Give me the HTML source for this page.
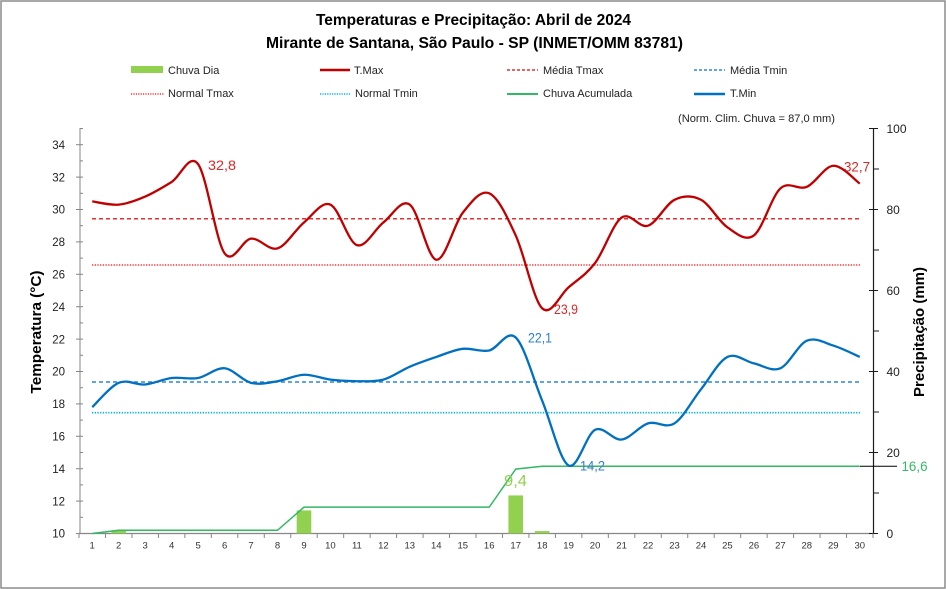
<!DOCTYPE html>
<html><head><meta charset="utf-8"><style>
html,body{margin:0;padding:0;background:#fff;}
svg{display:block;font-family:"Liberation Sans",sans-serif;}
</style></head><body>
<svg id="s" width="946" height="589" viewBox="0 0 946 589" xmlns="http://www.w3.org/2000/svg">
<rect x="0" y="0" width="946" height="589" fill="#fff"/>
<rect x="1" y="1" width="944" height="587" fill="none" stroke="#8c8c8c" stroke-width="1.5"/>
<text x="473.5" y="25" font-size="16" font-weight="bold" text-anchor="middle" textLength="315" lengthAdjust="spacingAndGlyphs" fill="#000">Temperaturas e Precipitação: Abril de 2024</text>
<text x="474.5" y="48" font-size="16" font-weight="bold" text-anchor="middle" textLength="417" lengthAdjust="spacingAndGlyphs" fill="#000">Mirante de Santana, São Paulo - SP (INMET/OMM 83781)</text>
<g font-size="11" fill="#222">
<rect x="131" y="66" width="32" height="7" fill="#92d050"/>
<text x="168" y="74">Chuva Dia</text>
<line x1="320" y1="70" x2="350" y2="70" stroke="#c00000" stroke-width="2.5"/>
<text x="354" y="74">T.Max</text>
<line x1="507" y1="70" x2="538" y2="70" stroke="#e03030" stroke-width="1.5" stroke-dasharray="3,2"/>
<text x="543" y="74">Média Tmax</text>
<line x1="694" y1="70" x2="725" y2="70" stroke="#2e86d6" stroke-width="1.5" stroke-dasharray="3,2"/>
<text x="730" y="74">Média Tmin</text>
<line x1="131" y1="94" x2="164" y2="94" stroke="#ff3333" stroke-width="1.5" stroke-dasharray="1.2,1.2"/>
<text x="168" y="97">Normal Tmax</text>
<line x1="320" y1="94" x2="350" y2="94" stroke="#00b0f0" stroke-width="1.5" stroke-dasharray="1.2,1.2"/>
<text x="355" y="97">Normal Tmin</text>
<line x1="507" y1="94" x2="538" y2="94" stroke="#33b864" stroke-width="2"/>
<text x="543" y="97">Chuva Acumulada</text>
<line x1="694" y1="94" x2="725" y2="94" stroke="#0070c0" stroke-width="2.5"/>
<text x="730" y="97">T.Min</text>
<text x="678" y="122" textLength="157" lengthAdjust="spacingAndGlyphs">(Norm. Clim. Chuva = 87,0 mm)</text>
</g>
<g id="axes"></g>
<g id="bars" fill="#92d050"></g>
<line x1="92" y1="218.7" x2="860" y2="218.7" stroke="#e03030" stroke-width="1.5" stroke-dasharray="4,3"/>
<line x1="92" y1="265" x2="860" y2="265" stroke="#ff3333" stroke-width="1.6" stroke-dasharray="1.3,1.4"/>
<line x1="92" y1="382" x2="860" y2="382" stroke="#2e86d6" stroke-width="1.5" stroke-dasharray="4,3"/>
<line x1="92" y1="412.7" x2="860" y2="412.7" stroke="#00b0f0" stroke-width="1.6" stroke-dasharray="1.3,1.4"/>
<path id="acc" fill="none" stroke="#33b864" stroke-width="1.5"/>
<line x1="860" y1="466.3" x2="897" y2="466.3" stroke="#000" stroke-width="1"/>
<path id="tmax" fill="none" stroke="#c00000" stroke-width="2.3" stroke-linejoin="round"/>
<path id="tmin" fill="none" stroke="#0070c0" stroke-width="2.3" stroke-linejoin="round"/>
<g font-size="13.5">
<text x="208" y="170" fill="#d42a2a" textLength="28" lengthAdjust="spacingAndGlyphs">32,8</text>
<text x="844" y="171.5" fill="#d42a2a" textLength="26" lengthAdjust="spacingAndGlyphs">32,7</text>
<text x="554" y="314" fill="#d42a2a" textLength="24" lengthAdjust="spacingAndGlyphs">23,9</text>
<text x="528" y="342.5" fill="#2a7ccc" textLength="24" lengthAdjust="spacingAndGlyphs">22,1</text>
<text x="580" y="470.5" fill="#3a7ed0" textLength="25" lengthAdjust="spacingAndGlyphs">14,2</text>
<text x="504" y="486" fill="#92d050" font-size="15.5" textLength="23" lengthAdjust="spacingAndGlyphs">9,4</text>
<text x="901.5" y="471" fill="#33b864" textLength="26" lengthAdjust="spacingAndGlyphs">16,6</text>
</g>
<text transform="translate(41,332) rotate(-90)" font-size="15" font-weight="bold" text-anchor="middle" textLength="123" lengthAdjust="spacingAndGlyphs" fill="#000">Temperatura (°C)</text>
<text transform="translate(924,332) rotate(-90)" font-size="15" font-weight="bold" text-anchor="middle" textLength="130" lengthAdjust="spacingAndGlyphs" fill="#000">Precipitação (mm)</text>
</svg>
<script>
(function(){
var NS="http://www.w3.org/2000/svg";
function X(d){return 79+(d-0.5)*26.467;}
function Y(t){return 533.5-(t-10)*16.2;}
function R(m){return 533.5-m*4.05;}
function el(p,n,a,txt){var e=document.createElementNS(NS,n);for(var k in a)e.setAttribute(k,a[k]);if(txt!=null)e.textContent=txt;p.appendChild(e);return e;}
function smooth(p){var d="M"+p[0][0].toFixed(2)+","+p[0][1].toFixed(2);for(var i=0;i<p.length-1;i++){var p0=p[i-1]||p[i],p1=p[i],p2=p[i+1],p3=p[i+2]||p2;var c1x=p1[0]+(p2[0]-p0[0])/6,c1y=p1[1]+(p2[1]-p0[1])/6,c2x=p2[0]-(p3[0]-p1[0])/6,c2y=p2[1]-(p3[1]-p1[1])/6;d+="C"+c1x.toFixed(2)+","+c1y.toFixed(2)+" "+c2x.toFixed(2)+","+c2y.toFixed(2)+" "+p2[0].toFixed(2)+","+p2[1].toFixed(2);}return d;}
var tmax=[30.5,30.3,30.8,31.7,32.8,27.3,28.2,27.6,29.2,30.3,27.8,29.2,30.3,26.9,29.8,31.0,28.4,23.9,25.2,26.7,29.5,29.0,30.6,30.6,28.9,28.4,31.3,31.4,32.7,31.6];
var tmin=[17.8,19.3,19.2,19.6,19.6,20.2,19.3,19.4,19.8,19.5,19.4,19.5,20.3,20.9,21.4,21.3,22.1,18.2,14.2,16.4,15.8,16.8,16.8,18.9,20.9,20.5,20.2,21.9,21.6,20.9];
var rain=[0,0.8,0,0,0,0,0,0,5.7,0,0,0,0,0,0,0,9.4,0.6,0,0,0,0,0,0,0,0,0,0,0,0];
var acc=[0,0.8,0.8,0.8,0.8,0.8,0.8,0.8,6.5,6.5,6.5,6.5,6.5,6.5,6.5,6.5,15.9,16.6,16.6,16.6,16.6,16.6,16.6,16.6,16.6,16.6,16.6,16.6,16.6,16.6];
var p1=[],p2=[],pa=[];
for(var i=0;i<30;i++){p1.push([X(i+1),Y(tmax[i])]);p2.push([X(i+1),Y(tmin[i])]);pa.push(X(i+1).toFixed(2)+","+R(acc[i]).toFixed(2));}
document.getElementById("tmax").setAttribute("d",smooth(p1));
document.getElementById("tmin").setAttribute("d",smooth(p2));
document.getElementById("acc").setAttribute("d","M"+pa.join(" L"));
var bars=document.getElementById("bars");
for(var i=0;i<30;i++){if(rain[i]>0){var h=rain[i]*4.05;el(bars,"rect",{x:(X(i+1)-7.3).toFixed(2),y:(533.5-h).toFixed(2),width:14.6,height:h.toFixed(2)});}}
var ax=document.getElementById("axes");
el(ax,"line",{x1:80,y1:128.5,x2:80,y2:533.5,stroke:"#868686","stroke-width":1});
el(ax,"line",{x1:79,y1:533.5,x2:873.5,y2:533.5,stroke:"#868686","stroke-width":1.2});
el(ax,"line",{x1:873.5,y1:128.5,x2:873.5,y2:533.5,stroke:"#1a1a1a","stroke-width":1.2});
for(var t=10;t<=35;t++){var y=Y(t);if(t%2==0){el(ax,"line",{x1:76,y1:y,x2:83,y2:y,stroke:"#868686","stroke-width":1});el(ax,"text",{x:65,y:(y+4.2).toFixed(1),"font-size":"11.5","text-anchor":"end",fill:"#222"},String(t));}else{el(ax,"line",{x1:79.5,y1:y,x2:83,y2:y,stroke:"#868686","stroke-width":1});}}
for(var m=0;m<=100;m+=10){var y=R(m);if(m%20==0){el(ax,"line",{x1:869,y1:y,x2:878,y2:y,stroke:"#1a1a1a","stroke-width":1});el(ax,"text",{x:886.5,y:(y+4.3).toFixed(1),"font-size":"12",fill:"#222"},String(m));}else{el(ax,"line",{x1:873.5,y1:y,x2:879,y2:y,stroke:"#1a1a1a","stroke-width":1});}}
for(var k=0;k<=30;k++){var x=79+k*26.467;el(ax,"line",{x1:x,y1:533.5,x2:x,y2:538,stroke:"#868686","stroke-width":1});}
for(var d=1;d<=30;d++){el(ax,"text",{x:X(d).toFixed(1),y:548.7,"font-size":"9.5","text-anchor":"middle",fill:"#333"},String(d));}
})();
</script>
</body></html>
